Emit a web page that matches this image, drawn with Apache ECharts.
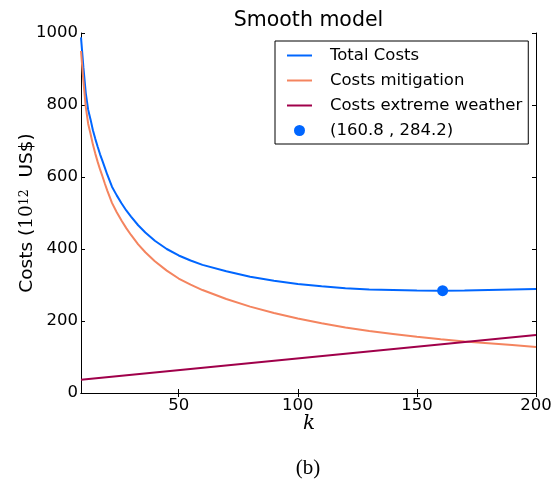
<!DOCTYPE html>
<html>
<head>
<meta charset="utf-8">
<script src="https://cdn.jsdelivr.net/npm/echarts@6/dist/echarts.min.js"></script>
<style>
  html, body { margin: 0; padding: 0; background: #ffffff; }
  #chart { width: 559px; height: 484px; }
</style>
</head>
<body>
<div id="chart"></div>
<script>
// Cost curves of the smooth model against the parameter k
const kValues = [9, 10, 11, 12, 13, 14, 15, 16, 17, 18, 19, 20, 22, 24, 26, 28, 30, 33, 36, 40,
                 45, 50, 55, 60, 70, 80, 90, 100, 110, 120, 130, 140, 150, 160, 170, 180, 190, 200];
const totalCosts = [988, 905, 833, 787, 760, 730, 706, 684, 663, 645, 626, 607, 573, 549, 527, 507, 490, 466, 446, 423,
                    400, 382, 368, 356, 338, 323, 312, 303, 296.5, 291, 287.5, 286, 284.5, 284.2, 284.5, 286, 287.5, 289];
const mitigationCosts = [950, 867, 795, 748, 720, 690, 665, 642, 621, 602, 582, 563, 528, 502, 479, 458, 439, 413, 391, 366,
                         340, 318, 301, 286, 261, 240, 222, 207, 194, 182, 172, 164, 156, 149, 143, 138, 133, 128];
// Extreme-weather costs grow linearly in k
const weatherK = [9, 200];
const weatherCosts = [37, 161];
// Minimum of the total cost
const optimum = [160.8, 284.2];

const xTicks = [50, 100, 150, 200];

const COLORS = { total: '#0066ff', mitigation: '#f4845f', weather: '#a0004a' };
const SANS = 'DejaVu Sans';
const SERIF = 'DejaVu Serif';

const pairs = (xs, ys) => xs.map((x, i) => [x, ys[i]]);
const optimumLabel = '(' + optimum[0].toFixed(1) + ' , ' + optimum[1].toFixed(1) + ')';

const chart = echarts.init(document.getElementById('chart'), null, { renderer: 'canvas' });

const tickStyle = { show: true, inside: true, length: 4, lineStyle: { color: '#000', width: 1 } };
const lineAxis = { show: true, lineStyle: { color: '#000', width: 1 } };
const plain = (v) => String(v);

chart.setOption({
  animation: false,
  backgroundColor: '#ffffff',
  grid: { left: 81, right: 23, top: 33, bottom: 91, containLabel: false },
  xAxis: [
    {
      type: 'value', position: 'bottom', min: kValues[0], max: 200,
      axisLine: lineAxis,
      axisTick: Object.assign({ customValues: xTicks }, tickStyle),
      axisLabel: { customValues: xTicks, formatter: plain, color: '#000', fontFamily: SANS, fontSize: 16.5, margin: 4 },
      splitLine: { show: false }
    },
    {
      type: 'value', position: 'top', min: kValues[0], max: 200,
      axisLine: lineAxis,
      axisTick: Object.assign({ customValues: xTicks }, tickStyle),
      axisLabel: { show: false },
      splitLine: { show: false }
    }
  ],
  yAxis: [
    {
      type: 'value', position: 'left', min: 0, max: 1000, interval: 200,
      axisLine: lineAxis,
      axisTick: tickStyle,
      axisLabel: { formatter: plain, color: '#000', fontFamily: SANS, fontSize: 16.5, margin: 3 },
      splitLine: { show: false },
      name: '{a|Costs (}{b|10}{c|12}{a|  US$)}',
      nameLocation: 'middle',
      nameRotate: 90,
      nameGap: 44,
      nameMoveOverlap: false,
      nameTextStyle: {
        rich: {
          a: { fontFamily: SANS, fontSize: 18.5, color: '#000' },
          b: { fontFamily: SERIF, fontSize: 18.5, color: '#000' },
          c: { fontFamily: SERIF, fontSize: 12.5, color: '#000', verticalAlign: 'top', padding: [0, 0, 6, 0] }
        }
      }
    },
    {
      type: 'value', position: 'right', min: 0, max: 1000, interval: 200,
      axisLine: lineAxis,
      axisTick: tickStyle,
      axisLabel: { show: false },
      splitLine: { show: false }
    }
  ],
  legend: {
    orient: 'vertical',
    left: 275, top: 41,
    padding: [6, 6, 5, 11],
    itemWidth: 25, itemHeight: 11, itemGap: 8,
    borderColor: '#000', borderWidth: 1, backgroundColor: '#fff',
    textStyle: { fontFamily: SANS, fontSize: 16.5, color: '#000', lineHeight: 16, padding: [0, 0, 0, 13] },
    data: [
      { name: 'Total Costs', itemStyle: { opacity: 0 } },
      { name: 'Costs mitigation', itemStyle: { opacity: 0 } },
      { name: 'Costs extreme weather', itemStyle: { opacity: 0 } },
      { name: optimumLabel, icon: 'circle', itemStyle: { color: COLORS.total, opacity: 1 } }
    ]
  },
  graphic: [
    { type: 'text', x: 308.5, y: 21,
      style: { text: 'Smooth model', fontFamily: SANS, fontSize: 20.5, fill: '#000', align: 'center', verticalAlign: 'middle' } },
    { type: 'text', x: 309, y: 424,
      style: { text: 'k', fontFamily: SERIF, fontStyle: 'italic', fontSize: 20, fill: '#000', align: 'center', verticalAlign: 'middle' } },
    { type: 'text', x: 308, y: 468,
      style: { text: '(b)', fontFamily: 'Liberation Serif', fontSize: 21, fill: '#000', align: 'center', verticalAlign: 'middle' } }
  ],
  series: [
    {
      name: 'Total Costs', type: 'line', data: pairs(kValues, totalCosts),
      symbol: 'none', lineStyle: { color: COLORS.total, width: 2 }, itemStyle: { color: COLORS.total }
    },
    {
      name: 'Costs mitigation', type: 'line', data: pairs(kValues, mitigationCosts),
      symbol: 'none', lineStyle: { color: COLORS.mitigation, width: 2 }, itemStyle: { color: COLORS.mitigation }
    },
    {
      name: 'Costs extreme weather', type: 'line', data: pairs(weatherK, weatherCosts),
      symbol: 'none', lineStyle: { color: COLORS.weather, width: 2 }, itemStyle: { color: COLORS.weather }
    },
    {
      name: optimumLabel, type: 'scatter', data: [optimum],
      symbol: 'circle', symbolSize: 11, itemStyle: { color: COLORS.total, opacity: 1 }, z: 5
    }
  ]
});
</script>
</body>
</html>
